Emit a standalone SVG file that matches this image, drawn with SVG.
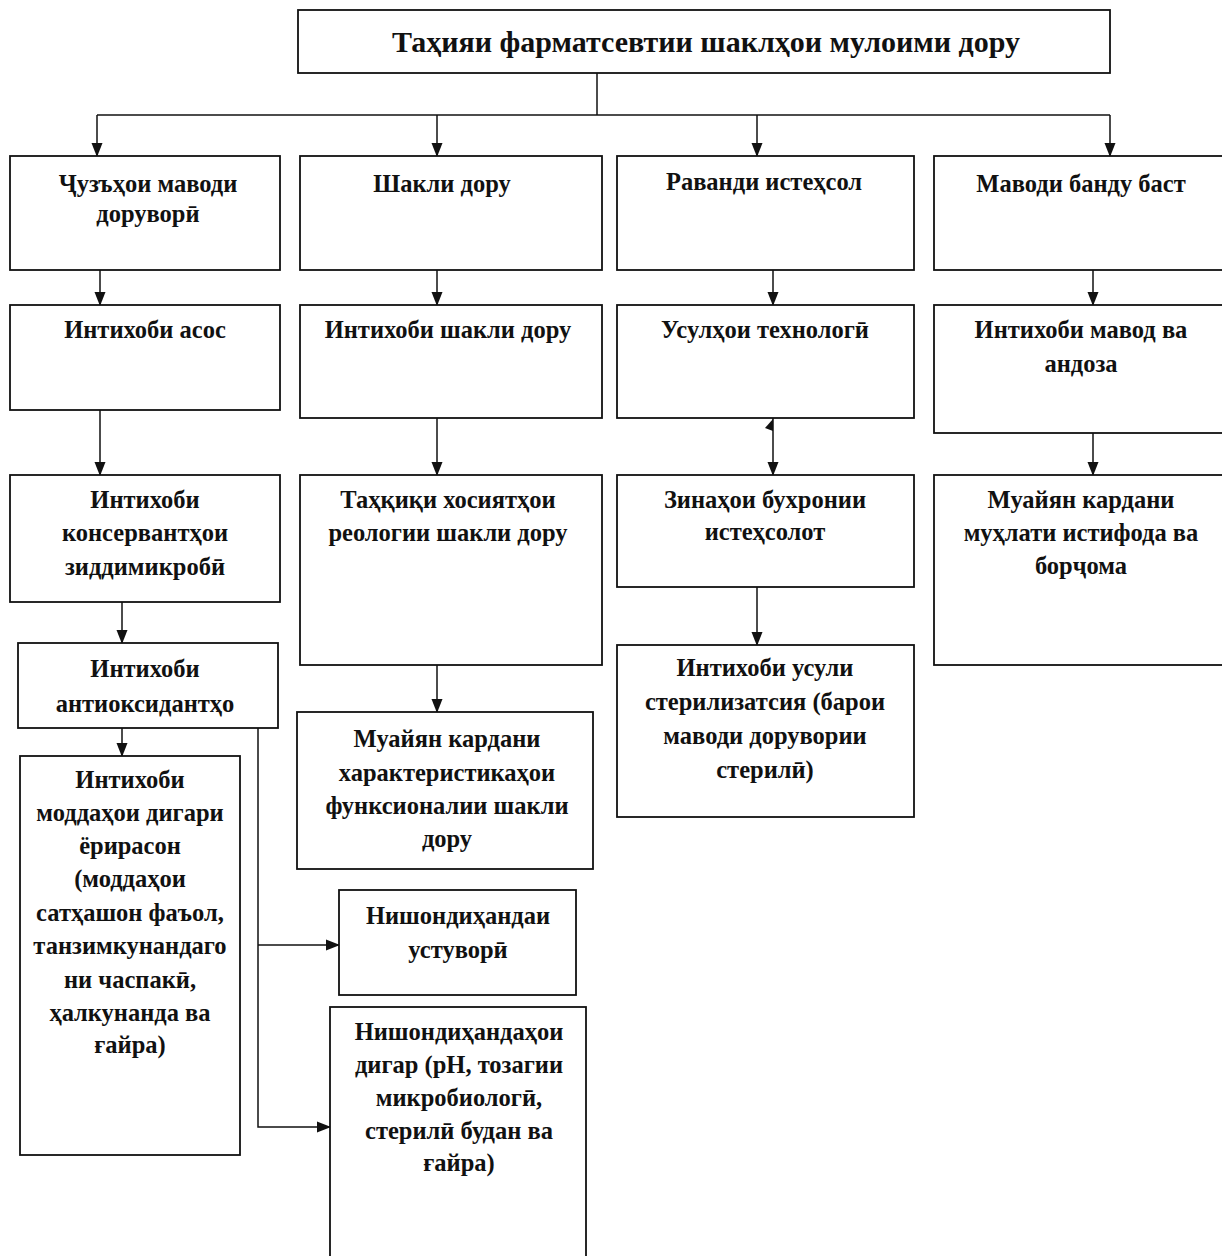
<svg xmlns="http://www.w3.org/2000/svg" width="1222" height="1256" viewBox="0 0 1222 1256">
<style>
.box{fill:#fff;stroke:#111;stroke-width:1.8}
.t{font-family:"Liberation Serif","Times New Roman",serif;font-weight:bold;font-size:24.5px;fill:#111;text-anchor:middle}
.title{font-size:30px}
.c{fill:none;stroke:#111;stroke-width:1.5}
</style>
<defs>
<marker id="ah" markerUnits="userSpaceOnUse" markerWidth="14" markerHeight="12" refX="13" refY="6" orient="auto">
<path d="M0,0.5 L14,6 L0,11.5 Z" fill="#111"/>
</marker>
</defs>
<rect width="1222" height="1256" fill="#fff"/>

<g id="connectors">
<path class="c" d="M597,73 V115"/>
<path class="c" d="M97,115 H1110"/>
<path class="c" d="M97,115 V156" marker-end="url(#ah)"/>
<path class="c" d="M437,115 V156" marker-end="url(#ah)"/>
<path class="c" d="M757,115 V156" marker-end="url(#ah)"/>
<path class="c" d="M1110,115 V156" marker-end="url(#ah)"/>
<path class="c" d="M100,262 V305" marker-end="url(#ah)"/>
<path class="c" d="M100,410 V475" marker-end="url(#ah)"/>
<path class="c" d="M122,602 V643" marker-end="url(#ah)"/>
<path class="c" d="M122,722 V756" marker-end="url(#ah)"/>
<path class="c" d="M258,722 V1127 H330" marker-end="url(#ah)"/>
<path class="c" d="M258,945 H339" marker-end="url(#ah)"/>
<path class="c" d="M437,262 V305" marker-end="url(#ah)"/>
<path class="c" d="M437,418 V475" marker-end="url(#ah)"/>
<path class="c" d="M437,665 V712" marker-end="url(#ah)"/>
<path class="c" d="M773,262 V305" marker-end="url(#ah)"/>
<path class="c" d="M773,418 V475" marker-end="url(#ah)"/>
<path d="M773,419 L765,428 L773,431 Z" fill="#111"/>
<path class="c" d="M757,587 V645" marker-end="url(#ah)"/>
<path class="c" d="M1093,262 V305" marker-end="url(#ah)"/>
<path class="c" d="M1093,433 V475" marker-end="url(#ah)"/>
</g>

<g id="title">
<rect class="box" x="298" y="10" width="812" height="63"/>
<text class="t title" x="706" y="52">Таҳияи фарматсевтии шаклҳои мулоими дору</text>
</g>

<g id="a1">
<rect class="box" x="10" y="156" width="270" height="114"/>
<text class="t" x="148" y="192">Ҷузъҳои маводи</text>
<text class="t" x="148" y="222">доруворӣ</text>
</g>
<g id="a2">
<rect class="box" x="10" y="305" width="270" height="105"/>
<text class="t" x="145" y="338">Интихоби асос</text>
</g>
<g id="a3">
<rect class="box" x="10" y="475" width="270" height="127"/>
<text class="t" x="145" y="508">Интихоби</text>
<text class="t" x="145" y="541">консервантҳои</text>
<text class="t" x="145" y="575">зиддимикробӣ</text>
</g>
<g id="a4">
<rect class="box" x="18" y="643" width="260" height="85"/>
<text class="t" x="145" y="677">Интихоби</text>
<text class="t" x="145" y="712">антиоксидантҳо</text>
</g>
<g id="a5">
<rect class="box" x="20" y="756" width="220" height="399"/>
<text class="t" x="130" y="788">Интихоби</text>
<text class="t" x="130" y="821">моддаҳои дигари</text>
<text class="t" x="130" y="854">ёрирасон</text>
<text class="t" x="130" y="887">(моддаҳои</text>
<text class="t" x="130" y="921">сатҳашон фаъол,</text>
<text class="t" x="130" y="954">танзимкунандаго</text>
<text class="t" x="130" y="988">ни часпакӣ,</text>
<text class="t" x="130" y="1021">ҳалкунанда ва</text>
<text class="t" x="130" y="1053">ғайра)</text>
</g>

<g id="b1">
<rect class="box" x="300" y="156" width="302" height="114"/>
<text class="t" x="442" y="192">Шакли дору</text>
</g>
<g id="b2">
<rect class="box" x="300" y="305" width="302" height="113"/>
<text class="t" x="448" y="338">Интихоби шакли дору</text>
</g>
<g id="b3">
<rect class="box" x="300" y="475" width="302" height="190"/>
<text class="t" x="448" y="508">Таҳқиқи хосиятҳои</text>
<text class="t" x="448" y="541">реологии шакли дору</text>
</g>
<g id="b4">
<rect class="box" x="297" y="712" width="296" height="157"/>
<text class="t" x="447" y="747">Муайян кардани</text>
<text class="t" x="447" y="781">характеристикаҳои</text>
<text class="t" x="447" y="814">функсионалии шакли</text>
<text class="t" x="447" y="847">дору</text>
</g>
<g id="e1">
<rect class="box" x="339" y="890" width="237" height="105"/>
<text class="t" x="458" y="924">Нишондиҳандаи</text>
<text class="t" x="458" y="958">устуворӣ</text>
</g>
<g id="e2">
<rect class="box" x="330" y="1007" width="256" height="260"/>
<text class="t" x="459" y="1040">Нишондиҳандаҳои</text>
<text class="t" x="459" y="1073">дигар (pH, тозагии</text>
<text class="t" x="459" y="1106">микробиологӣ,</text>
<text class="t" x="459" y="1139">стерилӣ будан ва</text>
<text class="t" x="459" y="1171">ғайра)</text>
</g>

<g id="c1">
<rect class="box" x="617" y="156" width="297" height="114"/>
<text class="t" x="764" y="190">Раванди истеҳсол</text>
</g>
<g id="c2">
<rect class="box" x="617" y="305" width="297" height="113"/>
<text class="t" x="765" y="338">Усулҳои технологӣ</text>
</g>
<g id="c3">
<rect class="box" x="617" y="475" width="297" height="112"/>
<text class="t" x="765" y="508">Зинаҳои бухронии</text>
<text class="t" x="765" y="540">истеҳсолот</text>
</g>
<g id="c4">
<rect class="box" x="617" y="645" width="297" height="172"/>
<text class="t" x="765" y="676">Интихоби усули</text>
<text class="t" x="765" y="710">стерилизатсия (барои</text>
<text class="t" x="765" y="744">маводи дорувории</text>
<text class="t" x="765" y="778">стерилӣ)</text>
</g>

<g id="d1">
<rect class="box" x="934" y="156" width="300" height="114"/>
<text class="t" x="1081" y="192">Маводи банду баст</text>
</g>
<g id="d2">
<rect class="box" x="934" y="305" width="300" height="128"/>
<text class="t" x="1081" y="338">Интихоби мавод ва</text>
<text class="t" x="1081" y="372">андоза</text>
</g>
<g id="d3">
<rect class="box" x="934" y="475" width="300" height="190"/>
<text class="t" x="1081" y="508">Муайян кардани</text>
<text class="t" x="1081" y="541">муҳлати истифода ва</text>
<text class="t" x="1081" y="574">борҷома</text>
</g>
</svg>
